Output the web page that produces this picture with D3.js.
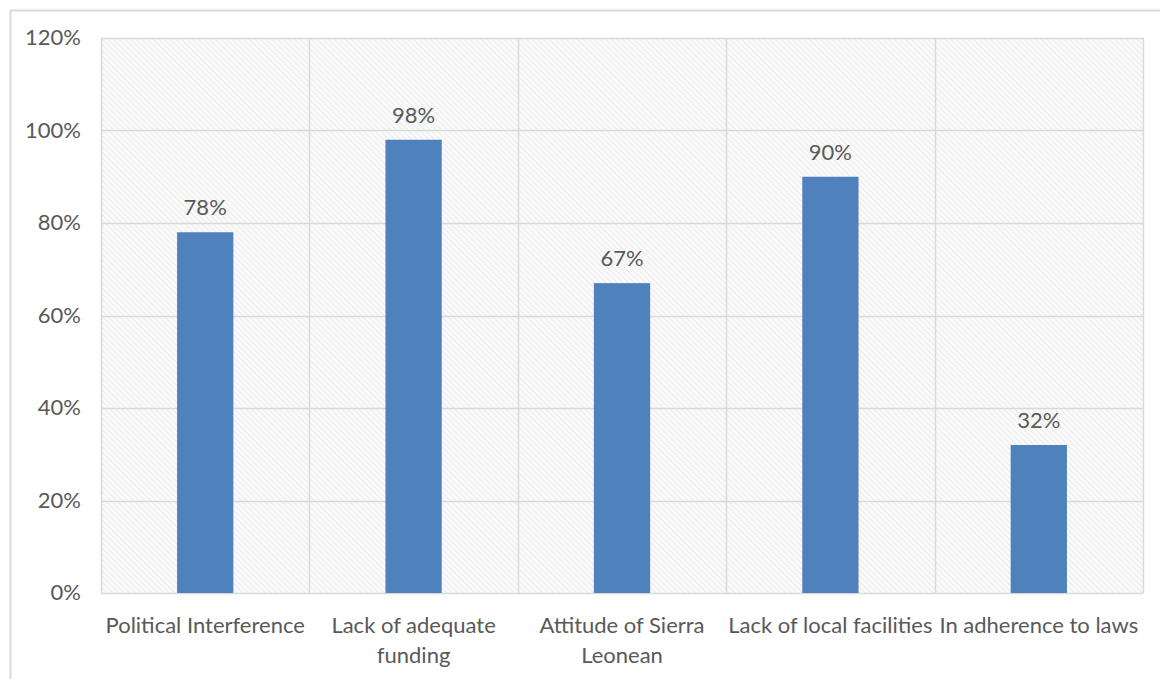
<!DOCTYPE html>
<html>
<head>
<meta charset="utf-8">
<script src="https://cdn.jsdelivr.net/npm/d3@7"></script>
<style>
  body { margin: 0; background: #fff; }
  text { font-family: Lato, "Open Sans", sans-serif; fill: #595959; }
</style>
</head>
<body>
<svg id="chart" width="1160" height="679"></svg>
<script>
// chart data
var categories = ["Political Interference", "Lack of adequate funding", "Attitude of Sierra Leonean", "Lack of local facilities", "In adherence to laws"];
var labelLines = [["Political Interference"], ["Lack of adequate", "funding"], ["Attitude of Sierra", "Leonean"], ["Lack of local facilities"], ["In adherence to laws"]];
var values = [78, 98, 67, 90, 32];
var yTicks = [0, 20, 40, 60, 80, 100, 120];

var barColor = "#4f81bd";
var gridColor = "#d9d9d9";
var fontSize = "22px";

var svg = d3.select("#chart");

// outer frame
svg.append("rect")
  .attr("x", 10.5).attr("y", 10.5)
  .attr("width", 1170).attr("height", 700)
  .attr("fill", "none").attr("stroke", "#d9d9d9").attr("stroke-width", 2);

var plotLeft = 101, plotRight = 1143, plotTop = 38, plotBottom = 593;

// hatch pattern for plot background
var defs = svg.append("defs");
var pat = defs.append("pattern")
  .attr("id", "hatch")
  .attr("patternUnits", "userSpaceOnUse")
  .attr("width", 4).attr("height", 4)
  .attr("patternTransform", "rotate(-45)");
pat.append("rect").attr("width", 4).attr("height", 4).attr("fill", "#fafafa");
pat.append("line")
  .attr("x1", 0).attr("y1", 0).attr("x2", 0).attr("y2", 4)
  .attr("stroke", "#e6e6e6").attr("stroke-width", 1.5);

var x = d3.scaleBand().domain(categories).range([plotLeft, plotRight]).paddingInner(0).paddingOuter(0);
var y = d3.scaleLinear().domain([0, 120]).range([plotBottom, plotTop]);

svg.append("rect")
  .attr("x", plotLeft).attr("y", plotTop)
  .attr("width", plotRight - plotLeft).attr("height", plotBottom - plotTop)
  .attr("fill", "url(#hatch)");

// horizontal gridlines
svg.append("g").selectAll("line")
  .data(yTicks)
  .enter().append("line")
  .attr("x1", plotLeft).attr("x2", plotRight)
  .attr("y1", function(d) { return Math.round(y(d)) + 0.5; })
  .attr("y2", function(d) { return Math.round(y(d)) + 0.5; })
  .attr("stroke", gridColor).attr("stroke-width", 1.5);

// vertical gridlines between categories
var bounds = categories.map(function(c) { return x(c); }).concat([plotRight]);
svg.append("g").selectAll("line")
  .data(bounds)
  .enter().append("line")
  .attr("x1", function(d) { return Math.round(d) + 0.5; })
  .attr("x2", function(d) { return Math.round(d) + 0.5; })
  .attr("y1", plotTop).attr("y2", plotBottom)
  .attr("stroke", gridColor).attr("stroke-width", 1.5);

// y axis labels
svg.append("g").selectAll("text")
  .data(yTicks)
  .enter().append("text")
  .attr("x", 81)
  .attr("y", function(d) { return y(d) + 7; })
  .attr("text-anchor", "end")
  .style("font-size", fontSize)
  .text(function(d) { return d + "%"; });

// bars
var barW = x.bandwidth() * 0.27;
svg.append("g").selectAll("rect")
  .data(values)
  .enter().append("rect")
  .attr("x", function(d, i) { return x(categories[i]) + x.bandwidth() / 2 - barW / 2; })
  .attr("y", function(d) { return y(d); })
  .attr("width", barW)
  .attr("height", function(d) { return y(0) - y(d); })
  .attr("fill", barColor);

// value labels
svg.append("g").selectAll("text")
  .data(values)
  .enter().append("text")
  .attr("x", function(d, i) { return x(categories[i]) + x.bandwidth() / 2; })
  .attr("y", function(d) { return y(d) - 17; })
  .attr("text-anchor", "middle")
  .style("font-size", fontSize)
  .text(function(d) { return d + "%"; });

// category labels
var cat = svg.append("g").selectAll("text")
  .data(categories)
  .enter().append("text")
  .attr("x", function(d) { return x(d) + x.bandwidth() / 2; })
  .attr("y", 633)
  .attr("text-anchor", "middle")
  .style("font-size", fontSize);
cat.each(function(d, i) {
  var t = d3.select(this);
  labelLines[i].forEach(function(line, k) {
    t.append("tspan")
      .attr("x", x(d) + x.bandwidth() / 2)
      .attr("dy", k === 0 ? 0 : 30)
      .text(line);
  });
});
</script>
</body>
</html>
